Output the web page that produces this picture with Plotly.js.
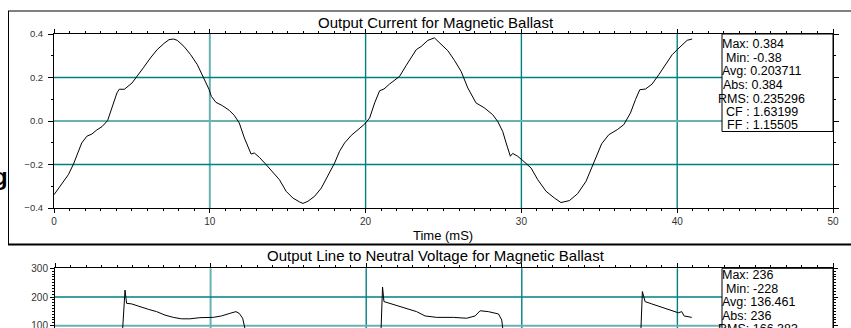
<!DOCTYPE html>
<html>
<head>
<meta charset="utf-8">
<script src="https://cdn.plot.ly/plotly-3.0.1.min.js"></script>
<style>
html,body{margin:0;padding:0;background:#fff;}
#chart{width:851px;height:328px;}
</style>
</head>
<body>
<div id="chart"></div>
<script>
// ---- Data ----
const currentTime = [0, 0.17, 0.6, 0.92, 1.25, 1.46, 1.78, 2.11, 2.43, 2.75, 3.08, 3.44, 3.72, 4.04, 4.19, 4.52, 5.01, 5.33, 5.76, 6.19, 6.62, 7.05, 7.38, 7.66, 7.91, 8.34, 8.77, 9.2, 9.63, 9.96, 10.1, 10.39, 10.82, 11.25, 11.57, 11.89, 12.22, 12.54, 12.65, 12.86, 13.18, 13.61, 14.04, 14.47, 14.9, 15.33, 15.76, 15.98, 16.3, 16.73, 17.16, 17.59, 18.01, 18.33, 18.65, 19.08, 19.51, 19.94, 20.26, 20.58, 20.9, 21.18, 21.54, 22.18, 22.61, 22.93, 23.25, 23.57, 24.0, 24.42, 24.85, 25.28, 25.7, 26.13, 26.56, 27.09, 27.63, 28.16, 28.48, 28.8, 29.02, 29.29, 29.44, 29.76, 30.09, 30.62, 31.05, 31.58, 32.12, 32.54, 33.08, 33.61, 34.15, 34.5, 34.8, 35.15, 35.61, 36.15, 36.57, 37.0, 37.32, 37.6, 37.97, 38.39, 38.82, 39.25, 39.68, 40.0, 40.32, 40.64, 40.96];
const currentAmps = [-0.339, -0.323, -0.28, -0.247, -0.198, -0.158, -0.101, -0.07, -0.06, -0.041, -0.026, 0.002, 0.06, 0.129, 0.146, 0.146, 0.175, 0.208, 0.247, 0.29, 0.328, 0.356, 0.374, 0.377, 0.371, 0.343, 0.305, 0.259, 0.198, 0.144, 0.113, 0.086, 0.07, 0.049, 0.026, -0.009, -0.078, -0.139, -0.152, -0.147, -0.167, -0.2, -0.234, -0.27, -0.323, -0.354, -0.372, -0.379, -0.369, -0.346, -0.308, -0.247, -0.193, -0.139, -0.101, -0.066, -0.04, -0.014, 0.014, 0.083, 0.139, 0.147, 0.17, 0.205, 0.256, 0.293, 0.328, 0.343, 0.371, 0.382, 0.354, 0.323, 0.279, 0.228, 0.152, 0.083, 0.06, 0.029, -0.002, -0.048, -0.101, -0.162, -0.149, -0.162, -0.182, -0.216, -0.27, -0.323, -0.354, -0.375, -0.366, -0.334, -0.277, -0.215, -0.16, -0.105, -0.063, -0.04, -0.017, 0.037, 0.098, 0.144, 0.147, 0.17, 0.213, 0.259, 0.305, 0.328, 0.351, 0.371, 0.377];

const voltageTime = [0, 1.0, 2.0, 2.9, 3.3, 3.55, 3.8, 4.0, 4.18, 4.5, 4.6, 4.92, 5.46, 6.0, 6.53, 7.07, 7.6, 8.14, 8.67, 9.31, 10.17, 10.7, 11.24, 11.63, 11.84, 12.06, 12.2, 12.4, 12.7, 12.9, 13.5, 14.5, 15.5, 16.5, 17.5, 18.5, 19.5, 19.9, 20.2, 20.5, 20.86, 21.05, 21.14, 21.52, 22.17, 22.81, 23.24, 23.78, 24.53, 25.6, 26.46, 27.0, 27.32, 27.85, 28.5, 28.71, 28.82, 29.0, 29.3, 29.5, 30, 31, 32, 33, 34, 35, 36, 36.5, 36.9, 37.2, 37.55, 37.75, 37.92, 38.35, 38.88, 39.53, 40.06, 40.28, 40.43, 40.92];
const voltageVolts = [-124, -128, -135, -143, -149, -143, -126, -100, -60, 224, 178, 176, 166, 157, 149, 137, 129, 124, 124, 128, 129, 134, 143, 149, 143, 126, 92, 0, -60, -228, -180, -165, -150, -135, -125, -125, -130, -145, -150, -140, -60, 235, 184, 178, 166, 157, 149, 134, 129, 129, 126, 134, 152, 149, 141, 120, 92, 0, -60, -228, -185, -170, -150, -135, -125, -128, -140, -148, -140, -120, -60, 219, 184, 176, 166, 155, 145, 149, 134, 129];

const currentStats = ["Max: 0.384", "Min: -0.38", "Avg: 0.203711", "Abs: 0.384", "RMS: 0.235296", "CF : 1.63199", "FF : 1.15505"];
const voltageStats = ["Max: 236", "Min: -228", "Avg: 136.461", "Abs: 236", "RMS: 166.383"];

const timeGrid = [10, 20, 30, 40];
const ampGrid = [0.2, -0.2];
const voltGrid = [200];

const titleTop = "Output Current for Magnetic Ballast";
const titleBottom = "Output Line to Neutral Voltage for Magnetic Ballast";
const xTitle = "Time (mS)";

// ---- Layout helpers (pixel -> paper) ----
const W = 851, H = 328;
const PX = p => p / W;
const PY = p => 1 - p / H;

const TEAL = "rgb(0,128,130)";
const TEAL_LIGHT = "rgb(104,178,178)";
const FONT = "Liberation Sans, Arial, sans-serif";

const traces = [
  {x: currentTime, y: currentAmps, xaxis: "x", yaxis: "y", type: "scatter", mode: "lines",
   line: {color: "#000", width: 1}, hoverinfo: "skip"},
  {x: voltageTime, y: voltageVolts, xaxis: "x2", yaxis: "y2", type: "scatter", mode: "lines",
   line: {color: "#000", width: 1}, hoverinfo: "skip"}
];

function xAxis(extra) {
  return Object.assign({
    range: [0, 50], dtick: 10, tick0: 0, showgrid: false,
    zeroline: false, showline: true, linecolor: "#000", linewidth: 1, mirror: "ticks",
    ticks: "outside", ticklen: 4, tickcolor: "#000", tickwidth: 1,
    minor: {dtick: 1, ticks: "outside", ticklen: 2, tickcolor: "#000", showgrid: false},
    tickfont: {family: FONT, size: 10, color: "#333"}, fixedrange: true
  }, extra);
}

const annotations = [];
annotations.push({xref: "paper", yref: "paper", x: PX(436), y: PY(22), xanchor: "center", yanchor: "middle",
  text: titleTop, showarrow: false, font: {family: FONT, size: 15, color: "#000"}});
annotations.push({xref: "paper", yref: "paper", x: PX(436), y: PY(255), xanchor: "center", yanchor: "middle",
  text: titleBottom, showarrow: false, font: {family: FONT, size: 15, color: "#000"}});
annotations.push({xref: "paper", yref: "paper", x: PX(443), y: PY(235), xanchor: "center", yanchor: "middle",
  text: xTitle, showarrow: false, font: {family: FONT, size: 13, color: "#000"}});
annotations.push({xref: "paper", yref: "paper", x: PX(10), y: PY(176), xanchor: "right", yanchor: "middle",
  text: "<b>g</b>", showarrow: false, font: {family: FONT, size: 24, color: "#000"}});

const STAT_FONT = 12.5;
const topStatX = [722, 725.5, 722, 723, 718, 725.5, 726.5];
const topStatY = [43.7, 57.5, 71.3, 85, 98.7, 112, 125];
currentStats.forEach((t, i) => annotations.push({xref: "paper", yref: "paper",
  x: PX(topStatX[i] - 1), y: PY(topStatY[i]), xanchor: "left", yanchor: "middle", borderpad: 0,
  text: t, showarrow: false, font: {family: FONT, size: STAT_FONT, color: "#000"}}));
const botStatX = [722, 725.5, 722, 722, 718];
const botStatY = [275, 288.5, 302, 315.5, 329];
voltageStats.forEach((t, i) => annotations.push({xref: "paper", yref: "paper",
  x: PX(botStatX[i] - 1), y: PY(botStatY[i]), xanchor: "left", yanchor: "middle", borderpad: 0,
  text: t, showarrow: false, font: {family: FONT, size: STAT_FONT, color: "#000"}}));

const THIN = 1.4;
const shapes = [];
timeGrid.forEach(v => {
  const strong = v === 10;
  shapes.push({type: "line", xref: "x", yref: "y domain", x0: v, x1: v, y0: 0, y1: 1, layer: "below",
    line: {color: strong ? TEAL_LIGHT : TEAL, width: strong ? 2 : THIN}});
  shapes.push({type: "line", xref: "x2", yref: "y2 domain", x0: v, x1: v, y0: 0, y1: 1, layer: "below",
    line: {color: strong ? TEAL_LIGHT : TEAL, width: strong ? 2 : THIN}});
});
ampGrid.forEach(v => shapes.push({type: "line", xref: "x domain", yref: "y", x0: 0, x1: 1, y0: v, y1: v, layer: "below",
  line: {color: TEAL, width: THIN}}));
shapes.push({type: "line", xref: "x domain", yref: "y", x0: 0, x1: 1, y0: 0, y1: 0, layer: "below",
  line: {color: TEAL_LIGHT, width: 2}});
voltGrid.forEach(v => shapes.push({type: "line", xref: "x2 domain", yref: "y2", x0: 0, x1: 1, y0: v, y1: v, layer: "below",
  line: {color: TEAL, width: THIN}}));
shapes.push({type: "line", xref: "x2 domain", yref: "y2", x0: 0, x1: 1, y0: 100, y1: 100, layer: "below",
  line: {color: TEAL_LIGHT, width: 2}});
shapes.push({type: "line", xref: "paper", yref: "paper", x0: PX(8), x1: PX(851), y0: PY(11), y1: PY(11), line: {color: "#808080", width: 2}});
shapes.push({type: "line", xref: "paper", yref: "paper", x0: PX(8.5), x1: PX(8.5), y0: PY(11), y1: PY(245), line: {color: "#000", width: 1}});
shapes.push({type: "line", xref: "paper", yref: "paper", x0: PX(8), x1: PX(851), y0: PY(244.5), y1: PY(244.5), line: {color: "#000", width: 2}});
shapes.push({type: "rect", xref: "paper", yref: "paper", x0: PX(722), x1: PX(833), y0: PY(34), y1: PY(131.5), fillcolor: "#fff", line: {color: "#000", width: 1}, layer: "above"});
shapes.push({type: "rect", xref: "paper", yref: "paper", x0: PX(722), x1: PX(833), y0: PY(268.3), y1: PY(340), fillcolor: "#fff", line: {color: "#000", width: 1}, layer: "above"});

const layout = {
  width: W, height: H, margin: {l: 0, r: 0, t: 0, b: 0},
  paper_bgcolor: "#fff", plot_bgcolor: "rgba(0,0,0,0)", showlegend: false,
  xaxis: xAxis({domain: [PX(54), PX(833)], anchor: "y"}),
  yaxis: {domain: [PY(208), PY(34)], anchor: "x", range: [-0.4, 0.4], dtick: 0.2, tick0: 0, tickformat: ".1f",
    showgrid: false, zeroline: false,
    showline: true, linecolor: "#000", linewidth: 1, mirror: "ticks",
    ticks: "outside", ticklen: 5, tickcolor: "#000", ticklabelstandoff: 3,
    minor: {dtick: 0.1, ticks: "outside", ticklen: 2, tickcolor: "#000", showgrid: false},
    tickfont: {family: FONT, size: 9.5, color: "#333"}, fixedrange: true},
  xaxis2: xAxis({domain: [PX(55), PX(833)], anchor: "y2", showticklabels: false}),
  yaxis2: {domain: [0, PY(268.3)], anchor: "x2", range: [92, 300], dtick: 100, tick0: 0,
    showgrid: false, zeroline: false,
    showline: true, linecolor: "#000", linewidth: 1, mirror: "ticks",
    ticks: "outside", ticklen: 4, tickcolor: "#000", ticklabeloverflow: "allow",
    minor: {dtick: 10, ticks: "outside", ticklen: 2, tickcolor: "#000", showgrid: false},
    tickfont: {family: FONT, size: 10, color: "#333"}, fixedrange: true},
  annotations: annotations,
  shapes: shapes
};

Plotly.newPlot("chart", traces, layout, {staticPlot: true, displayModeBar: false});
</script>
</body>
</html>
